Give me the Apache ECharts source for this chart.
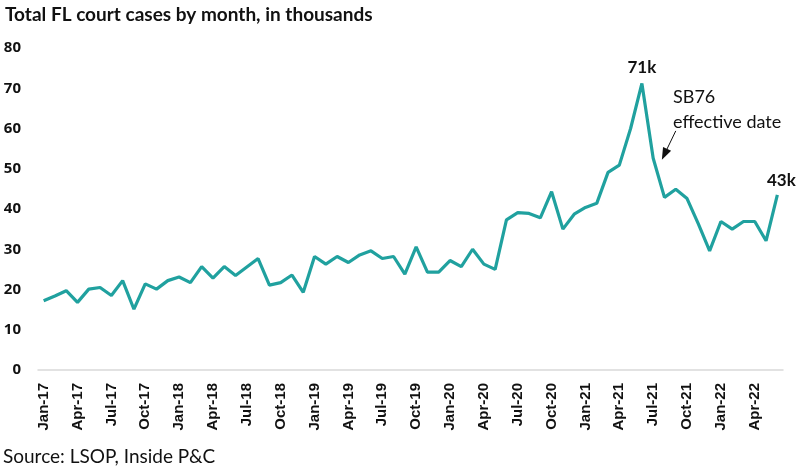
<!DOCTYPE html>
<html>
<head>
<meta charset="utf-8">
<script src="https://cdn.jsdelivr.net/npm/echarts@6/dist/echarts.min.js"></script>
<style>
html,body{margin:0;padding:0;background:#fff;}
#chart{width:800px;height:471px;}
</style>
</head>
<body>
<div id="chart"></div>
<script>
const months = ['Jan','Feb','Mar','Apr','May','Jun','Jul','Aug','Sep','Oct','Nov','Dec'];
const categories = [];
for (let y = 17; y <= 22; y++) {
  for (let m = 0; m < 12; m++) {
    if (y === 22 && m > 5) break;
    categories.push(months[m] + '-' + y);
  }
}
const cases = [
  17.2, 18.4, 19.7, 16.8, 20.1, 20.5, 18.5, 22.2, 15.1, 21.4, 20.1, 22.2,
  23.1, 21.7, 25.7, 22.8, 25.7, 23.5, 25.6, 27.7, 21.1, 21.7, 23.6, 19.3,
  28.2, 26.3, 28.2, 26.7, 28.6, 29.6, 27.7, 28.2, 23.8, 30.6, 24.3, 24.3,
  27.2, 25.7, 30.0, 26.3, 25.0, 37.3, 39.1, 38.9, 37.8, 44.3, 35.0, 38.7,
  40.4, 41.4, 49.1, 50.9, 60.0, 71.2, 52.6, 42.9, 44.9, 42.6, 36.3, 29.6,
  36.9, 35.0, 36.9, 36.9, 32.1, 43.5
];
const yTicks = [0, 80, 10];
const peakLabel = '71k';
const lastLabel = '43k';
const noteText = 'SB76\neffective date';

const chart = echarts.init(document.getElementById('chart'));
const peakIdx = 53;
const lastIdx = cases.length - 1;

chart.setOption({
  animation: false,
  title: {
    text: 'Total FL court cases by month, in thousands',
    left: 0, top: 0,
    textStyle: {fontFamily: 'Lato', fontWeight: 'bold', fontSize: 19, color: '#111'}
  },
  grid: {left: 38, right: 17, top: 48, bottom: 101, containLabel: false},
  xAxis: {
    type: 'category',
    data: categories,
    boundaryGap: true,
    axisLine: {lineStyle: {color: '#d9d9d9', width: 1.5}},
    axisTick: {show: false},
    axisLabel: {
      interval: 2, rotate: 90, margin: 13,
      fontFamily: 'Liberation Sans', fontWeight: 'bold', fontSize: 15, color: '#111'
    },
    splitLine: {show: false}
  },
  yAxis: {
    type: 'value',
    min: yTicks[0], max: yTicks[1], interval: yTicks[2],
    axisLine: {show: false},
    axisTick: {show: false},
    splitLine: {show: false},
    axisLabel: {margin: 17, fontFamily: 'Open Sans', fontWeight: 'bold', fontSize: 15, color: '#111'}
  },
  series: [{
    type: 'line',
    data: cases,
    symbol: 'none',
    lineStyle: {color: '#20A19F', width: 3.2},
    itemStyle: {color: '#20A19F'},
    markPoint: {
      silent: true,
      symbol: 'circle',
      symbolSize: 1,
      itemStyle: {color: 'rgba(0,0,0,0)'},
      label: {show: true, position: 'top', fontFamily: 'Lato', fontWeight: 'bold', fontSize: 17, color: '#111'},
      data: [
        {coord: [peakIdx, cases[peakIdx]], label: {formatter: peakLabel, distance: 7}},
        {coord: [lastIdx, cases[lastIdx]], label: {formatter: lastLabel, distance: 5, offset: [4, 0]}}
      ]
    },
    markLine: {
      silent: true,
      symbol: ['none', 'triangle'],
      symbolSize: [9, 12],
      label: {show: false},
      lineStyle: {color: '#111', width: 1, type: 'solid'},
      data: [[{coord: [55.8, 59.4]}, {coord: [54.8, 53.6]}]]
    }
  }],
  graphic: [{
    type: 'text',
    left: 673, top: 85,
    style: {
      text: noteText,
      font: '18px Lato',
      fill: '#111',
      lineHeight: 25
    }
  }, {
    type: 'text',
    left: 3, top: 447,
    style: {text: 'Source: LSOP, Inside P&C', font: '19px Lato', fill: '#111'}
  }]
});
</script>
</body>
</html>
